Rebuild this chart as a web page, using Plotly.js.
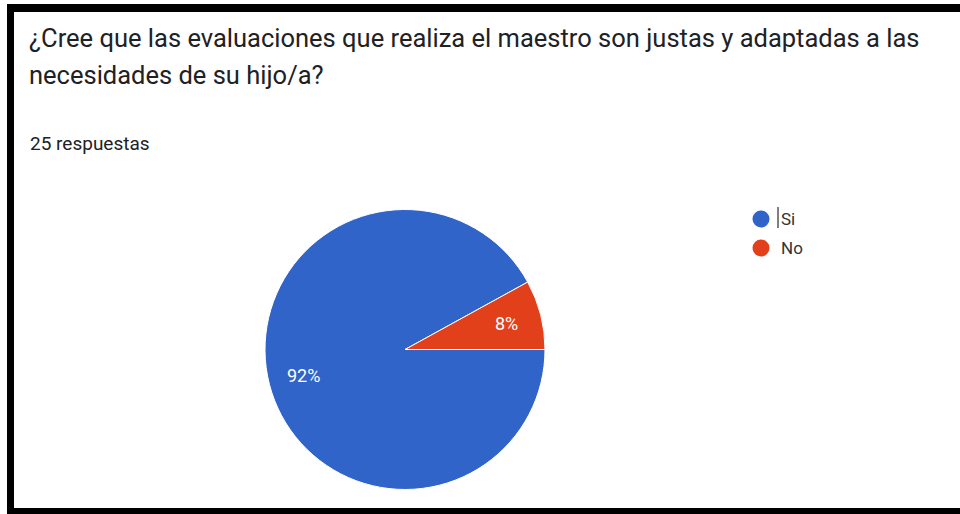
<!DOCTYPE html>
<html>
<head>
<meta charset="utf-8">
<script src="https://cdn.plot.ly/plotly-3.0.1.min.js"></script>
<style>
html,body{margin:0;padding:0;background:#fff;}
#chart{width:960px;height:514px;}
</style>
</head>
<body>
<div id="chart"></div>
<script>
const titleLines = ["¿Cree que las evaluaciones que realiza el maestro son justas y adaptadas a las", "necesidades de su hijo/a?"];
const subtitle = "25 respuestas";
const labels = ["Si", "No"];
const values = [23, 2];
const colors = ["#3164c9", "#e2401b"];

const W = 960, H = 514;
const px = x => x / W;
const py = y => 1 - y / H;

// pie geometry (pixels)
const CX = 405, CY = 349.5, R = 140;

const annotations = [];
titleLines.forEach((t, i) => {
  annotations.push({
    text: t, xref: "paper", yref: "paper", x: px(27), y: py(38 + i * 37),
    xanchor: "left", yanchor: "middle", showarrow: false,
    font: {family: "Roboto", size: 25.5, color: "#202124"}
  });
});
annotations.push({
  text: subtitle, xref: "paper", yref: "paper", x: px(28), y: py(143),
  xanchor: "left", yanchor: "middle", showarrow: false,
  font: {family: "Roboto", size: 19, color: "#202124"}
});

const shapes = [
  {type: "rect", xref: "paper", yref: "paper", x0: px(7), x1: px(14), y0: py(514), y1: py(4), fillcolor: "#000", line: {width: 0}},
  {type: "rect", xref: "paper", yref: "paper", x0: px(7), x1: px(960), y0: py(12), y1: py(4), fillcolor: "#000", line: {width: 0}},
  {type: "rect", xref: "paper", yref: "paper", x0: px(7), x1: px(960), y0: py(514), y1: py(508), fillcolor: "#000", line: {width: 0}},
  {type: "line", xref: "paper", yref: "paper", x0: px(778), x1: px(778), y0: py(207), y1: py(228), line: {color: "#000", width: 1}}
];

labels.forEach((lab, i) => {
  const cy = 219 + i * 29;
  shapes.push({
    type: "circle", xref: "paper", yref: "paper", xsizemode: "pixel", ysizemode: "pixel",
    xanchor: px(761), yanchor: py(cy), x0: -8.5, x1: 8.5, y0: -8.5, y1: 8.5,
    fillcolor: colors[i], line: {width: 0}
  });
  annotations.push({
    text: lab, xref: "paper", yref: "paper", x: px(779), y: py(cy),
    xanchor: "left", yanchor: "middle", showarrow: false,
    font: {family: "Roboto", size: 17, color: "#333333"}
  });
});

// slice labels: percentages at 0.75 R along each slice's mid-angle (clockwise from 3 o'clock)
const total = values.reduce((a, b) => a + b, 0);
let acc = 0;
values.forEach((v, i) => {
  const frac = v / total;
  const mid = (acc + frac / 2) * 2 * Math.PI;
  acc += frac;
  const x = CX + Math.cos(mid) * R * 0.75;
  const y = CY + Math.sin(mid) * R * 0.75;
  annotations.push({
    text: Math.round(frac * 100) + "%", xref: "paper", yref: "paper", x: px(x), y: py(y),
    xanchor: "center", yanchor: "middle", showarrow: false,
    font: {family: "Roboto", size: 18, color: "#ffffff"}
  });
});

const trace = {
  type: "pie",
  labels: labels,
  values: values,
  sort: false,
  direction: "clockwise",
  rotation: 90,
  marker: {colors: colors, line: {color: "#ffffff", width: 1}},
  textinfo: "none",
  hoverinfo: "label+percent",
  showlegend: false,
  domain: {x: [px(CX - R), px(CX + R)], y: [py(CY + R), py(CY - R)]}
};

const layout = {
  width: W, height: H,
  margin: {l: 0, r: 0, t: 0, b: 0},
  paper_bgcolor: "#ffffff",
  showlegend: false,
  shapes: shapes,
  annotations: annotations
};

Plotly.newPlot("chart", [trace], layout, {displayModeBar: false, staticPlot: true});
</script>
</body>
</html>
